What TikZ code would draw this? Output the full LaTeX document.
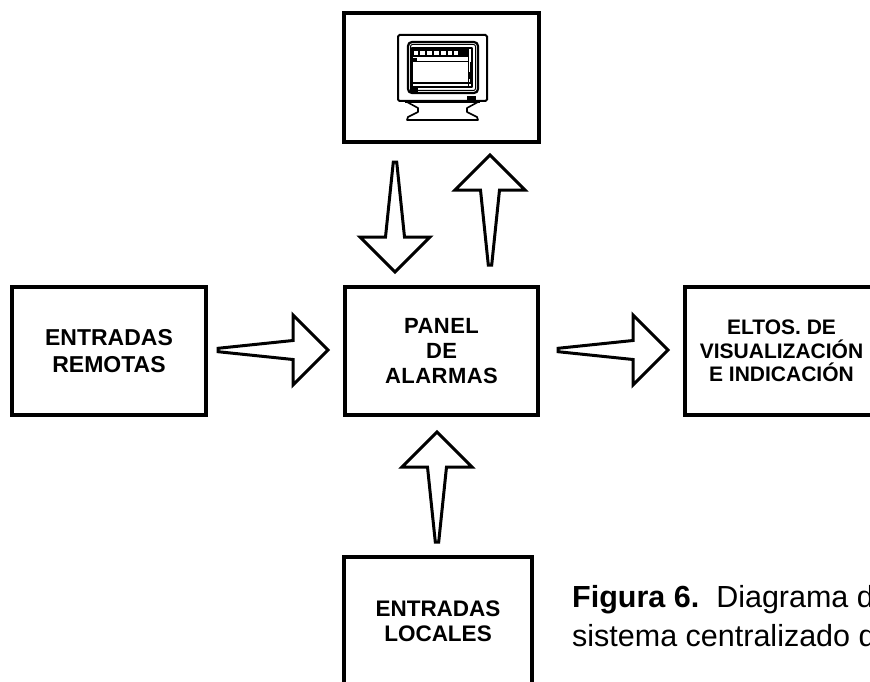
\documentclass[tikz,border=0pt]{standalone}
\usepackage{fontspec}
\setmainfont{Liberation Sans}
\usetikzlibrary{calc}
\tikzset{
  blk/.style={draw, line width=4pt, outer sep=0pt, inner sep=0pt, align=center,
    font=\bfseries\fontsize{22}{25}\selectfont},
  arrowline/.style={draw, line width=3pt, line join=miter, fill=white},
  tarrow/.pic={\path[arrowline] (0,-1.7) -- (75,-9.5) -- (75,-35) -- (110,0) -- (75,35) -- (75,9.5) -- (0,1.7) -- cycle;},
  mon/.style={line width=1.6pt, line join=round},
  captxt/.style={anchor=base west, inner sep=0pt, font=\fontsize{30.5}{36}\selectfont}
}
\begin{document}
\begin{tikzpicture}[x=1pt,y=-1pt]
\useasboundingbox (0,0) rectangle (870,682);
\clip (0,0) rectangle (870,682);
\fill[white] (0,0) rectangle (870,682);
% boxes
\node[blk, minimum width=195pt, minimum height=129pt] (top) at (441.5,77.5) {};
\node[blk, minimum width=194pt, minimum height=128pt, font=\bfseries\fontsize{23}{26.5}\selectfont] (remote) at (109,351) {ENTRADAS\\REMOTAS};
\node[blk, minimum width=193pt, minimum height=128pt] (panel) at (441.5,351) {\addfontfeature{LetterSpace=2}PANEL\\\addfontfeature{LetterSpace=2}DE\\\addfontfeature{LetterSpace=2}ALARMAS};
\node[blk, minimum width=193pt, minimum height=128pt, font=\bfseries\fontsize{21}{23.5}\selectfont] (display) at (781.5,351) {ELTOS. DE\\VISUALIZACIÓN\\E INDICACIÓN};
\node[blk, minimum width=188pt, minimum height=128pt, font=\bfseries\fontsize{22.5}{25.5}\selectfont] (local) at (438,621) {ENTRADAS\\LOCALES};
% block arrows
\pic at ($(remote.east)+(12,-1)$) {tarrow};
\pic at ($(panel.east)+(20,-1)$) {tarrow};
\pic[rotate=-90] at ($(top.south)+(-46.5,20)$) {tarrow};
\pic[rotate=90] at ($(panel.north)+(48.5,-22)$) {tarrow};
\pic[rotate=90] at ($(local.north)+(-1,-15)$) {tarrow};
% monitor icon
\draw[line width=2pt, rounded corners=1.5pt] (398,35) rectangle (487,101);
\draw[line width=2.2pt, rounded corners=4pt] (408,42) rectangle (478,93);
\draw[line width=1pt, rounded corners=2pt] (410.5,44.5) rectangle (475.5,90.5);
\draw[mon] (412,48) rectangle (472,87);
\fill[black] (412,49) rectangle (468,57.5);
\foreach \a/\b in {414/418,420/425,427/432,434/439,441/446,448/452,454/458}
  \fill[white] (\a,51.5) rectangle (\b,55.5);
\draw[line width=0.8pt] (412,61) -- (468,61);
\fill[black] (412,58) rectangle (417,61);
\draw[line width=1pt] (468,49) -- (468,87);
\draw[line width=0.8pt] (470,62) -- (470,83);
\fill[black] (467.5,72) rectangle (470.5,79);
\draw[mon] (412,83) -- (472,83);
\fill[black] (410,87) rectangle (418,92);
\fill[black] (467,96) rectangle (476,103);
\draw[line width=1pt] (462,102) -- (480,102);
\draw[mon] (405,102) -- (480,102);
\draw[mon] (407,102) -- (418,108) -- (418,112) -- (408,117) -- (407,120) -- (478,120) -- (477,117) -- (467,112) -- (467,108) -- (478,102);
% caption
\node[captxt] (cap1) at (572,607) {\textbf{Figura 6.}\ \ Diagrama de};
\node[captxt] (cap2) at (572,646) {sistema centralizado de};
\end{tikzpicture}
\end{document}
